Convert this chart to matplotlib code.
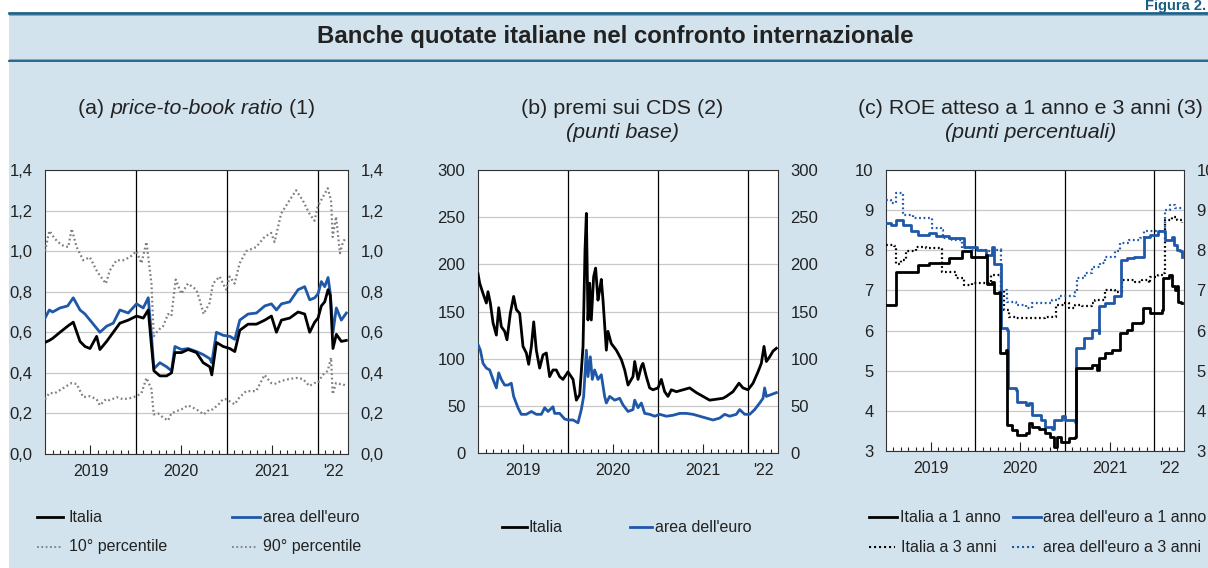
import matplotlib
matplotlib.use("Agg")
import matplotlib.pyplot as plt
from matplotlib.lines import Line2D
from matplotlib.patches import Rectangle
from matplotlib.ticker import FixedLocator, FuncFormatter

plt.rcParams['font.family'] = ['Liberation Sans', 'DejaVu Sans']

# ---------------- DATA ----------------
# Panel (a): price-to-book ratio (time in decimal years)
t_a = [2019.000, 2019.048, 2019.084, 2019.165, 2019.249, 2019.311, 2019.385, 2019.440, 2019.495, 2019.568,
       2019.604, 2019.678, 2019.751, 2019.824, 2019.916, 2020.007, 2020.081, 2020.136, 2020.172, 2020.198,
       2020.264, 2020.337, 2020.392, 2020.429, 2020.502, 2020.575, 2020.667, 2020.740, 2020.813, 2020.835,
       2020.886, 2020.960, 2021.033, 2021.088, 2021.143, 2021.234, 2021.326, 2021.418, 2021.491, 2021.546,
       2021.601, 2021.692, 2021.784, 2021.857, 2021.912, 2021.967, 2022.004, 2022.040, 2022.077, 2022.114,
       2022.139, 2022.168, 2022.205, 2022.260, 2022.315]
italia_a = [0.55, 0.56, 0.57, 0.60, 0.63, 0.65, 0.555, 0.53, 0.52, 0.58,
            0.515, 0.555, 0.60, 0.645, 0.66, 0.68, 0.67, 0.71, 0.53, 0.41,
            0.385, 0.385, 0.40, 0.50, 0.50, 0.515, 0.50, 0.45, 0.43, 0.39,
            0.55, 0.53, 0.52, 0.505, 0.61, 0.64, 0.64, 0.66, 0.68, 0.60,
            0.66, 0.67, 0.70, 0.69, 0.60, 0.65, 0.67, 0.73, 0.75, 0.81,
            0.78, 0.52, 0.59, 0.555, 0.56]
euro_a = [0.67, 0.71, 0.70, 0.72, 0.73, 0.77, 0.71, 0.69, 0.66, 0.62,
          0.60, 0.63, 0.645, 0.71, 0.695, 0.74, 0.72, 0.77, 0.58, 0.42,
          0.45, 0.43, 0.41, 0.53, 0.515, 0.52, 0.505, 0.49, 0.47, 0.45,
          0.60, 0.585, 0.58, 0.565, 0.66, 0.69, 0.695, 0.73, 0.74, 0.71,
          0.74, 0.75, 0.81, 0.825, 0.76, 0.77, 0.79, 0.85, 0.825, 0.87,
          0.79, 0.60, 0.72, 0.66, 0.695]
t_pct = [2019.000, 2019.048, 2019.110, 2019.183, 2019.256, 2019.293, 2019.348, 2019.421, 2019.494, 2019.567,
         2019.604, 2019.670, 2019.713, 2019.787, 2019.860, 2019.933, 2020.006, 2020.061, 2020.116, 2020.171,
         2020.196, 2020.244, 2020.299, 2020.354, 2020.390, 2020.438, 2020.500, 2020.573, 2020.665, 2020.701,
         2020.745, 2020.811, 2020.848, 2020.921, 2020.958, 2020.994, 2021.031, 2021.086, 2021.141, 2021.214,
         2021.323, 2021.415, 2021.488, 2021.525, 2021.598, 2021.689, 2021.763, 2021.836, 2021.909, 2021.964,
         2022.000, 2022.055, 2022.110, 2022.147, 2022.165, 2022.202, 2022.245, 2022.275, 2022.311]
p90_a = [1.00, 1.10, 1.06, 1.03, 1.02, 1.11, 1.02, 0.955, 0.97, 0.905,
         0.88, 0.84, 0.905, 0.955, 0.955, 0.97, 1.00, 0.94, 1.045, 0.84,
         0.58, 0.61, 0.63, 0.69, 0.68, 0.86, 0.79, 0.84, 0.81, 0.76,
         0.69, 0.745, 0.84, 0.875, 0.84, 0.81, 0.875, 0.84, 0.94, 1.00,
         1.02, 1.07, 1.09, 1.045, 1.185, 1.25, 1.30, 1.25, 1.185, 1.15,
         1.22, 1.265, 1.31, 1.25, 1.07, 1.17, 0.99, 1.04, 1.07]
p10_a = [0.27, 0.30, 0.30, 0.32, 0.34, 0.35, 0.345, 0.28, 0.285, 0.27,
         0.24, 0.27, 0.265, 0.28, 0.27, 0.275, 0.285, 0.30, 0.375, 0.32,
         0.195, 0.20, 0.18, 0.165, 0.20, 0.21, 0.22, 0.24, 0.22, 0.21,
         0.195, 0.22, 0.22, 0.25, 0.27, 0.27, 0.26, 0.245, 0.28, 0.31,
         0.31, 0.39, 0.35, 0.345, 0.36, 0.37, 0.375, 0.37, 0.335, 0.35,
         0.35, 0.39, 0.41, 0.475, 0.295, 0.35, 0.345, 0.345, 0.335]

# Panel (b): CDS premia (basis points)
t_b_it = [2019.000, 2019.019, 2019.056, 2019.093, 2019.111, 2019.137, 2019.167, 2019.204, 2019.230, 2019.259,
          2019.296, 2019.322, 2019.359, 2019.396, 2019.426, 2019.463, 2019.500, 2019.537, 2019.563, 2019.593,
          2019.619, 2019.648, 2019.685, 2019.722, 2019.759, 2019.796, 2019.833, 2019.870, 2019.907, 2019.944,
          2020.000, 2020.056, 2020.093, 2020.130, 2020.167, 2020.189, 2020.204, 2020.222, 2020.241, 2020.259,
          2020.285, 2020.307, 2020.333, 2020.352, 2020.370, 2020.389, 2020.426, 2020.444, 2020.481, 2020.537,
          2020.593, 2020.630, 2020.667, 2020.722, 2020.741, 2020.778, 2020.815, 2020.833, 2020.870, 2020.907,
          2020.944, 2021.000, 2021.037, 2021.074, 2021.111, 2021.148, 2021.204, 2021.278, 2021.352, 2021.426,
          2021.500, 2021.574, 2021.648, 2021.722, 2021.759, 2021.833, 2021.900, 2021.944, 2022.000, 2022.056,
          2022.111, 2022.148, 2022.178, 2022.204, 2022.241, 2022.278, 2022.315]
italia_b = [190, 180, 169, 159, 171, 159, 138, 125, 154, 134,
            129, 120, 148, 166, 152, 148, 113, 106, 94, 113,
            139, 109, 90, 104, 106, 81, 88, 88, 81, 78,
            86, 78, 56, 62, 113, 215, 254, 141, 180, 141,
            187, 196, 162, 173, 184, 162, 109, 129, 116, 109,
            99, 88, 72, 81, 97, 78, 92, 95, 81, 69,
            67, 69, 78, 65, 60, 67, 65, 67, 69, 64,
            60, 56, 57, 58, 60, 65, 74, 69, 67, 74,
            86, 95, 113, 97, 102, 108, 111]
t_b_eu = [2019.000, 2019.026, 2019.056, 2019.093, 2019.130, 2019.167, 2019.204, 2019.230, 2019.259, 2019.296,
          2019.333, 2019.370, 2019.396, 2019.444, 2019.481, 2019.537, 2019.593, 2019.648, 2019.704, 2019.741,
          2019.778, 2019.833, 2019.852, 2019.907, 2019.963, 2020.000, 2020.056, 2020.111, 2020.148, 2020.174,
          2020.204, 2020.222, 2020.248, 2020.270, 2020.296, 2020.333, 2020.370, 2020.407, 2020.426, 2020.463,
          2020.519, 2020.574, 2020.611, 2020.667, 2020.722, 2020.741, 2020.778, 2020.815, 2020.852, 2020.907,
          2020.963, 2021.019, 2021.093, 2021.167, 2021.241, 2021.315, 2021.389, 2021.463, 2021.537, 2021.611,
          2021.685, 2021.741, 2021.796, 2021.870, 2021.907, 2021.963, 2022.019, 2022.074, 2022.130, 2022.167,
          2022.185, 2022.204, 2022.259, 2022.315]
euro_b = [115, 109, 95, 90, 88, 78, 69, 85, 78, 72,
          72, 74, 60, 48, 41, 41, 44, 41, 41, 48,
          44, 49, 42, 42, 36, 35, 35, 32, 46, 60,
          109, 81, 102, 78, 88, 78, 83, 60, 53, 60,
          56, 58, 51, 44, 46, 56, 48, 53, 42, 41,
          39, 41, 39, 40, 42, 42, 41, 39, 37, 35,
          37, 41, 39, 41, 46, 41, 41, 46, 53, 58,
          69, 60, 62, 64]

# Panel (c): expected ROE (percentage points)
t_c_it1 = [2019.000, 2019.112, 2019.353, 2019.483, 2019.706, 2019.855, 2019.948, 2020.115, 2020.134, 2020.190,
           2020.208, 2020.264, 2020.275, 2020.338, 2020.349, 2020.413, 2020.468, 2020.561, 2020.599, 2020.636,
           2020.710, 2020.784, 2020.840, 2020.877, 2020.914, 2020.952, 2021.007, 2021.045, 2021.119, 2021.126,
           2021.193, 2021.305, 2021.361, 2021.379, 2021.454, 2021.528, 2021.602, 2021.621, 2021.695, 2021.751,
           2021.862, 2021.870, 2021.955, 2022.011, 2022.086, 2022.104, 2022.160, 2022.197, 2022.234, 2022.253,
           2022.271, 2022.301, 2022.315]
italia_1y = [6.64, 7.47, 7.63, 7.68, 7.80, 7.97, 7.84, 7.88, 7.17, 7.22,
             6.93, 6.97, 5.43, 5.52, 3.65, 3.52, 3.40, 3.44, 3.69, 3.61,
             3.56, 3.44, 3.36, 3.11, 3.36, 3.23, 3.23, 3.32, 3.36, 5.06,
             5.06, 5.14, 5.02, 5.31, 5.43, 5.52, 5.52, 5.93, 6.01, 6.18,
             6.22, 6.55, 6.43, 6.43, 6.51, 7.30, 7.39, 7.10, 7.01, 7.10,
             6.72, 6.68, 6.68]
t_c_eu1 = [2019.000, 2019.056, 2019.112, 2019.186, 2019.279, 2019.353, 2019.483, 2019.558, 2019.706, 2019.855,
           2019.874, 2019.967, 2020.022, 2020.115, 2020.182, 2020.208, 2020.283, 2020.290, 2020.357, 2020.364,
           2020.450, 2020.468, 2020.561, 2020.599, 2020.636, 2020.729, 2020.784, 2020.859, 2020.877, 2020.970,
           2021.007, 2021.119, 2021.126, 2021.193, 2021.212, 2021.305, 2021.379, 2021.387, 2021.454, 2021.546,
           2021.621, 2021.628, 2021.695, 2021.770, 2021.881, 2021.888, 2021.955, 2022.048, 2022.123, 2022.197,
           2022.216, 2022.253, 2022.290, 2022.315]
euro_1y = [8.69, 8.63, 8.76, 8.63, 8.47, 8.38, 8.42, 8.36, 8.30, 8.30,
           8.09, 8.09, 8.01, 7.88, 8.09, 7.67, 7.63, 6.06, 6.01, 4.56,
           4.52, 4.23, 4.15, 4.19, 3.90, 3.77, 3.61, 3.56, 3.77, 3.86,
           3.77, 3.73, 5.56, 5.56, 5.81, 6.01, 5.93, 6.60, 6.68, 6.85,
           6.85, 7.76, 7.80, 7.84, 7.84, 8.34, 8.38, 8.47, 8.26, 8.34,
           8.13, 8.01, 7.97, 7.84]
t_c_it3 = [2019.000, 2019.093, 2019.112, 2019.167, 2019.223, 2019.335, 2019.446, 2019.613, 2019.621, 2019.781,
           2019.874, 2019.967, 2020.152, 2020.171, 2020.264, 2020.283, 2020.320, 2020.375, 2020.450, 2020.599,
           2020.710, 2020.784, 2020.877, 2020.896, 2020.989, 2021.045, 2021.119, 2021.193, 2021.305, 2021.342,
           2021.454, 2021.565, 2021.621, 2021.639, 2021.788, 2021.862, 2021.937, 2021.955, 2022.048, 2022.104,
           2022.123, 2022.197, 2022.253, 2022.315]
italia_3y = [8.13, 8.11, 7.67, 7.76, 7.97, 8.09, 8.05, 8.05, 7.47, 7.30,
             7.14, 7.18, 7.18, 7.39, 7.39, 7.01, 6.51, 6.35, 6.31, 6.32,
             6.31, 6.35, 6.35, 6.64, 6.68, 6.55, 6.64, 6.60, 6.68, 6.76,
             7.01, 6.97, 6.97, 7.26, 7.22, 7.26, 7.18, 7.34, 7.39, 7.43,
             8.76, 8.84, 8.76, 8.67]
t_c_eu3 = [2019.000, 2019.056, 2019.112, 2019.167, 2019.186, 2019.297, 2019.428, 2019.520, 2019.613, 2019.632,
           2019.743, 2019.855, 2019.967, 2020.115, 2020.171, 2020.283, 2020.290, 2020.357, 2020.450, 2020.561,
           2020.636, 2020.784, 2020.859, 2020.933, 2021.045, 2021.119, 2021.138, 2021.230, 2021.305, 2021.398,
           2021.454, 2021.565, 2021.621, 2021.714, 2021.844, 2021.881, 2021.974, 2022.104, 2022.123, 2022.178,
           2022.234, 2022.315]
euro_3y = [9.26, 9.18, 9.42, 9.42, 8.88, 8.80, 8.80, 8.55, 8.51, 8.30,
           8.26, 8.05, 8.01, 7.97, 8.01, 8.05, 7.01, 6.72, 6.64, 6.55,
           6.68, 6.68, 6.76, 6.85, 6.85, 6.97, 7.30, 7.43, 7.59, 7.68,
           7.84, 7.97, 8.18, 8.26, 8.30, 8.47, 8.47, 8.47, 9.01, 9.13,
           9.05, 9.09]

year_lines = [2020, 2021, 2022]
year_label_pos = [2019.5, 2020.5, 2021.5, 2022.167]
year_labels = ['2019', '2020', '2021', "'22"]

yticks_a = [0.0, 0.2, 0.4, 0.6, 0.8, 1.0, 1.2, 1.4]
yticks_b = [0, 50, 100, 150, 200, 250, 300]
yticks_c = [3, 4, 5, 6, 7, 8, 9, 10]

# ---------------- LAYOUT ----------------
W, H = 1208, 568
fig = plt.figure(figsize=(W / 100, H / 100), dpi=100)
fig.patch.set_facecolor('white')


def fx(px):
    return px / W


def fy(py):
    return 1 - py / H


BG = '#d2e3ed'
DARK = '#1a5f87'
LIGHT = '#7fa8c2'
BLUE = '#1f58a8'
GRAY = '#7f7f7f'
TXT = '#222222'

fig.add_artist(Rectangle((fx(9), 0), 1 - fx(9), fy(12), transform=fig.transFigure,
                         facecolor=BG, edgecolor='none', zorder=0))
fig.add_artist(Line2D([fx(9), 1], [fy(12.9)] * 2, transform=fig.transFigure, color=DARK, lw=1.9, zorder=1))
fig.add_artist(Line2D([fx(9), 1], [fy(14.6)] * 2, transform=fig.transFigure, color=LIGHT, lw=0.7, zorder=1))
fig.add_artist(Line2D([fx(9), 1], [fy(59.3)] * 2, transform=fig.transFigure, color=LIGHT, lw=0.7, zorder=1))
fig.add_artist(Line2D([fx(9), 1], [fy(60.6)] * 2, transform=fig.transFigure, color=DARK, lw=1.3, zorder=1))

fig.text(fx(1206), fy(10), 'Figura 2.', ha='right', va='baseline', fontsize=10.5,
         fontweight='bold', color=DARK)
fig.text(fx(615), fy(37), 'Banche quotate italiane nel confronto internazionale',
         ha='center', va='center', fontsize=17.3, fontweight='bold', color=TXT)

renderer = fig.canvas.get_renderer()


def mixed_title(cx, cy, parts, size=15.4):
    texts = []
    for s, style in parts:
        t = fig.text(0, fy(cy), s, ha='left', va='center', fontsize=size, fontstyle=style, color=TXT)
        texts.append(t)
    widths = [t.get_window_extent(renderer).width for t in texts]
    x = cx - sum(widths) / 2
    for t, w in zip(texts, widths):
        t.set_x(fx(x))
        x += w


mixed_title(196.5, 108, [('(a) ', 'normal'), ('price-to-book ratio', 'italic'), (' (1)', 'normal')])
mixed_title(622.5, 108, [('(b) premi sui CDS (2)', 'normal')])
mixed_title(622.5, 132, [('(punti base)', 'italic')])
mixed_title(1030.5, 108, [('(c) ROE atteso a 1 anno e 3 anni (3)', 'normal')])
mixed_title(1030.5, 132, [('(punti percentuali)', 'italic')])


def make_ax(l, r, t, b, yticks, fmt):
    ax = fig.add_axes([fx(l), fy(b), (r - l) / W, (b - t) / H])
    ax.set_facecolor('white')
    ax.set_xlim(2019, 2022 + 1 / 3)
    ax.set_ylim(yticks[0], yticks[-1])
    ax.set_yticks(yticks)
    ax.yaxis.set_major_formatter(FuncFormatter(fmt))
    ax.grid(axis='y', color='#c9c9c9', lw=0.9, zorder=0)
    ax.tick_params(axis='y', length=0, labelleft=True, labelright=True, pad=9,
                   labelsize=12, labelcolor=TXT)
    ax.xaxis.set_major_locator(FixedLocator(year_label_pos))
    ax.set_xticklabels(year_labels)
    ax.xaxis.set_minor_locator(FixedLocator([2019 + k / 12 for k in range(1, 40) if k % 12]))
    ax.tick_params(axis='x', which='major', length=0, pad=7, labelsize=11.5, labelcolor=TXT)
    ax.tick_params(axis='x', which='minor', direction='in', length=3.2, width=0.8, color='#222222')
    ax.vlines([2019.5, 2020.5, 2021.5], 0, 0.033, transform=ax.get_xaxis_transform(),
              color='#222222', lw=0.8, zorder=3)
    for yl in year_lines:
        ax.axvline(yl, color='black', lw=0.9, zorder=2)
    for sp in ax.spines.values():
        sp.set_color('#333333')
        sp.set_linewidth(0.8)
    return ax


fmt_a = lambda v, p: f'{v:.1f}'.replace('.', ',')
fmt_i = lambda v, p: f'{v:.0f}'

ax_a = make_ax(45, 348, 170, 454, yticks_a, fmt_a)
ax_a.plot(t_pct, p90_a, color=GRAY, lw=1.6, ls=(0, (0.8, 1.2)), zorder=3)
ax_a.plot(t_pct, p10_a, color=GRAY, lw=1.6, ls=(0, (0.8, 1.2)), zorder=3)
ax_a.plot(t_a, euro_a, color=BLUE, lw=2.0, zorder=4)
ax_a.plot(t_a, italia_a, color='black', lw=2.0, zorder=5)

ax_b = make_ax(478, 778, 170, 453, yticks_b, fmt_i)
ax_b.plot(t_b_eu, euro_b, color=BLUE, lw=2.0, zorder=4)
ax_b.plot(t_b_it, italia_b, color='black', lw=2.0, zorder=5)

ax_c = make_ax(886, 1184, 170, 451, yticks_c, fmt_i)
ax_c.plot(t_c_it3, italia_3y, color='black', lw=1.6, ls=(0, (0.8, 1.2)), drawstyle='steps-post', zorder=3)
ax_c.plot(t_c_eu3, euro_3y, color=BLUE, lw=1.6, ls=(0, (0.8, 1.2)), drawstyle='steps-post', zorder=3)
ax_c.plot(t_c_it1, italia_1y, color='black', lw=2.0, drawstyle='steps-post', zorder=5)
ax_c.plot(t_c_eu1, euro_1y, color=BLUE, lw=2.0, drawstyle='steps-post', zorder=4)


# ---------------- LEGENDS ----------------
def leg(x0, x1, y, tx, label, **style):
    fig.add_artist(Line2D([fx(x0), fx(x1)], [fy(y)] * 2, transform=fig.transFigure, **style))
    fig.text(fx(tx), fy(y), label, ha='left', va='center', fontsize=11.5, color=TXT)


solid_k = dict(color='black', lw=2.0)
solid_b = dict(color=BLUE, lw=2.0)
dot_g = dict(color=GRAY, lw=1.3, ls=(0, (1, 1.4)))
dot_k = dict(color='black', lw=1.5, ls=(0, (1, 1.4)))
dot_b = dict(color=BLUE, lw=1.5, ls=(0, (1, 1.4)))

leg(37, 63, 517, 68, 'Italia', **solid_k)
leg(232, 260, 517, 263, "area dell'euro", **solid_b)
leg(37, 63, 547, 69, '10° percentile', **dot_g)
leg(232, 258, 547, 263, '90° percentile', **dot_g)

leg(502, 527, 527, 528, 'Italia', **solid_k)
leg(630, 652, 527, 655, "area dell'euro", **solid_b)

leg(869, 897, 517, 900, 'Italia a 1 anno', **solid_k)
leg(1013, 1041, 517, 1043, "area dell'euro a 1 anno", **solid_b)
leg(869, 895, 547, 901, 'Italia a 3 anni', **dot_k)
leg(1012, 1037, 547, 1043, "area dell'euro a 3 anni", **dot_b)

fig.savefig('out.png', dpi=100, facecolor=fig.get_facecolor())
